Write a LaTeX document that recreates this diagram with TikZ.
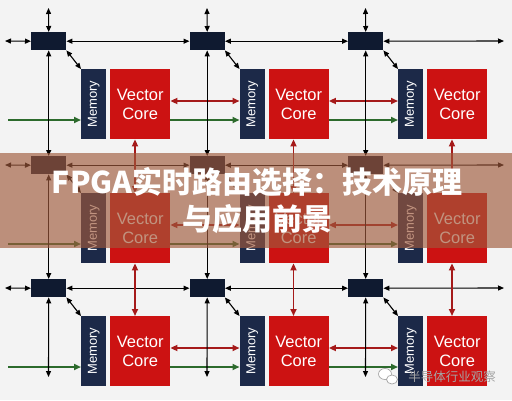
\documentclass[tikz,border=0pt]{standalone}
\usepackage{fontspec}
\setmainfont{Liberation Sans}
\newfontfamily\cjk{Noto Sans CJK SC}
\usetikzlibrary{arrows.meta}
\definecolor{bgc}{HTML}{F3F3F3}
\definecolor{routerc}{HTML}{0F1A30}
\definecolor{memc}{HTML}{1C2948}
\definecolor{vcc}{HTML}{CC1212}
\definecolor{redarr}{HTML}{A51A1A}
\definecolor{greenarr}{HTML}{2C6A2C}
\definecolor{bannerc}{RGB}{160,90,60}
\definecolor{wmc}{RGB}{165,165,165}
\begin{document}
\begin{tikzpicture}[x=1pt,y=-1pt,
  router/.style={fill=routerc, minimum width=35pt, minimum height=18pt, inner sep=0pt, anchor=north west},
  memory/.style={fill=memc, minimum width=25pt, minimum height=70pt, inner sep=0pt, anchor=north west, text=white, font=\fontsize{13}{13}\selectfont},
  vcore/.style={fill=vcc, minimum width=60pt, minimum height=70pt, inner sep=0pt, anchor=north west, text=white, align=center, font=\fontsize{16.5}{19}\selectfont},
  blk/.style={draw=black, line width=1.1pt, {Triangle[length=6pt,width=5pt]}-{Triangle[length=6pt,width=5pt]}},
  redl/.style={draw=redarr, line width=1.7pt, {Triangle[length=7pt,width=6pt]}-{Triangle[length=7pt,width=6pt]}},
  grn/.style={draw=greenarr, line width=1.7pt, -{Triangle[length=7pt,width=6pt]}},
  title/.style={text=white, inner sep=0pt, font=\cjk\bfseries\fontsize{30}{30}\selectfont},
  wmark/.style={text=wmc, inner sep=0pt, font=\cjk\fontsize{12.5}{12.5}\selectfont}
]
\useasboundingbox (0,0) rectangle (512,400);
\fill[bgc] (0,0) rectangle (512,400);

% tiles
\foreach \i/\ry in {1/32,2/156,3/279} {
  \foreach \j in {1,2,3} {
    \pgfmathsetmacro{\rx}{31+158.5*(\j-1)}
    \node[router] (r\i\j) at (\rx,\ry) {};
    \node[memory] (m\i\j) at (\rx+50,\ry+37) {\rotatebox{90}{Memory}};
    \node[vcore] (v\i\j) at (\rx+79,\ry+37) {Vector\\Core};
  }
  \coordinate (L\i) at (5,\ry+9);
  \coordinate (R\i) at (504,\ry+9);
  \coordinate (G\i) at (8,\ry+88);
}

% horizontal router links, diagonals, green and red arrows
\foreach \i in {1,2,3} {
  \draw[blk] (L\i) -- (r\i1.west);
  \draw[blk] (r\i1.east) -- (r\i2.west);
  \draw[blk] (r\i2.east) -- (r\i3.west);
  \draw[blk] (r\i3.east) -- (R\i);
  \foreach \j in {1,2,3} {
    \draw[blk] (r\i\j.south east) -- (m\i\j.north west);
  }
  \draw[grn] (G\i) -- (G\i -| m\i1.west);
  \draw[grn] ([yshift=-51pt]v\i1.north east) -- ([yshift=-51pt]m\i2.north west);
  \draw[grn] ([yshift=-51pt]v\i2.north east) -- ([yshift=-51pt]m\i3.north west);
  \draw[redl] ([yshift=-32pt]v\i1.north east) -- ([yshift=-32pt]m\i2.north west);
  \draw[redl] ([yshift=-32pt]v\i2.north east) -- ([yshift=-32pt]m\i3.north west);
}

% vertical links
\foreach \j in {1,2,3} {
  \pgfmathsetmacro{\cx}{31+158.5*(\j-1)+17.5}
  \coordinate (T\j) at (\cx,8);
  \coordinate (B\j) at (\cx,377);
  \draw[blk] (T\j) -- (r1\j.north);
  \draw[blk] (r1\j.south) -- (r2\j.north);
  \draw[blk] (r2\j.south) -- (r3\j.north);
  \draw[blk] (r3\j.south) -- (B\j);
  \draw[redl] ([xshift=25pt]v1\j.south west) -- ([xshift=25pt]v2\j.north west);
  \draw[redl] ([xshift=25pt]v2\j.south west) -- ([xshift=25pt]v3\j.north west);
}

% banner
\fill[bannerc, opacity=0.65] (0,153) rectangle (512,248);
\node[title] (t1) at (257,182) {FPGA实时路由选择：技术原理};
\node[title] (t2) at (257,219) {与应用前景};

% watermark
\draw[wmc, fill=white, line width=0.7pt] (385,374) ellipse (6.5 and 5.5);
\draw[wmc, fill=white, line width=0.7pt] (392,379.5) ellipse (5.5 and 4.5);
\node[wmark] (wm) at (452,377) {半导体行业观察};
\end{tikzpicture}
\end{document}
